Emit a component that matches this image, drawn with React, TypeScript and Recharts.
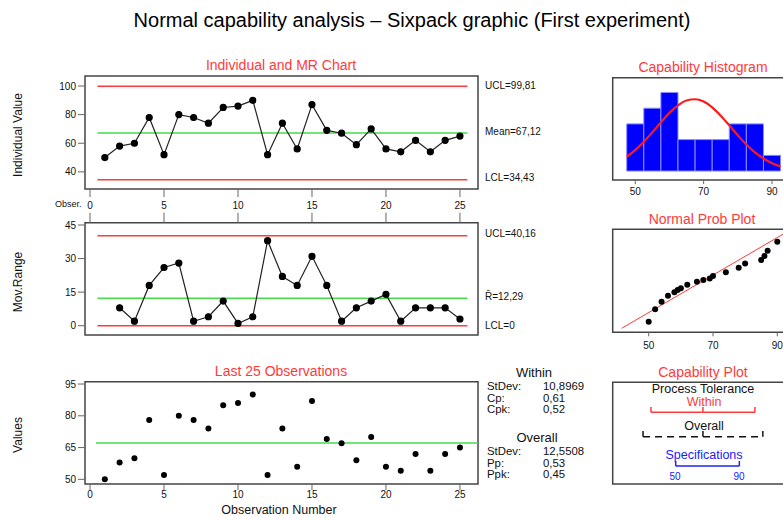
import React from "react";
import {
  ComposedChart,
  Line,
  Scatter,
  XAxis,
  YAxis,
  ReferenceLine,
  ReferenceArea,
} from "recharts";

// individual observations 1..25
const obsValues = [50, 58, 60, 78, 52, 80, 78, 74, 85, 86, 90, 52, 74, 56, 87, 69, 67, 59, 70, 56, 54, 62, 54, 62, 65];
// moving ranges for observations 2..25
const movRanges = [8, 2, 18, 26, 28, 2, 4, 11, 1, 4, 38, 22, 18, 31, 18, 2, 8, 11, 14, 2, 8, 8, 8, 3];

const indLimits = [99.81, 67.12, 34.43]; // UCL, mean, LCL
const mrLimits = [40.16, 12.29, 0]; // UCL, Rbar, LCL
const obsTicks = [0, 5, 10, 15, 20, 25];

// histogram
const binStart = [47.5, 52.5, 57.5, 62.5, 67.5, 72.5, 77.5, 82.5, 87.5];
const binCount = [3, 4, 5, 2, 2, 2, 3, 3, 1];
const curveX = [47.5, 50, 52.5, 55, 57.5, 60, 62.5, 65, 67.5, 70, 72.5, 75, 77.5, 80, 82.5, 85, 87.5, 90, 92.5];
const curveY = [0.91, 1.33, 1.86, 2.46, 3.1, 3.7, 4.18, 4.49, 4.57, 4.42, 4.05, 3.52, 2.91, 2.27, 1.69, 1.19, 0.8, 0.5, 0.3];

// normal probability plot
const probX = [50, 52, 54, 56, 58, 59, 60, 62, 65, 67, 69, 70, 74, 78, 80, 85, 86, 87, 90];
const probZ = [-1.75, -1.22, -0.9, -0.65, -0.5, -0.4, -0.33, -0.18, -0.05, 0.02, 0.09, 0.19, 0.35, 0.54, 0.73, 0.87, 1.04, 1.27, 1.65];
const fitLine = [[41.6, -2.03], [92.4, 2.02]];

// capability plot
const withinTol = [34.43, 67.12, 99.81];
const overallTol = [29.47, 67.12, 104.77];
const specLimits = [50, 90];

const withinStats = [["StDev:", "10,8969"], ["Cp:", "0,61"], ["Cpk:", "0,52"]];
const overallStats = [["StDev:", "12,5508"], ["Pp:", "0,53"], ["Ppk:", "0,45"]];

const indRows = obsValues.map((v, i) => ({ obs: i + 1, value: v }));
const mrRows = movRanges.map((v, i) => ({ obs: i + 2, value: v }));
const curveRows = curveX.map((x, i) => ({ x, y: curveY[i] }));
const probRows = probX.map((x, i) => ({ x, z: probZ[i] }));

const FONT = "'Liberation Sans', Arial, sans-serif";
const RED = "#ff3a3a";
const GREEN = "#44dd44";
const FRAME = "#444";
const tickStyle = { fontSize: 10, fill: "#111" };

const dot = (p: any) => <circle cx={p.cx} cy={p.cy} r={3} fill="#000" />;

function Txt({ x, y, size = 12, color = "#111", align = "center", rotate = false, children }: any) {
  const tx = align === "left" ? "0" : align === "right" ? "-100%" : "-50%";
  return (
    <div
      style={{
        position: "absolute",
        left: x,
        top: y,
        transform: `translate(${tx}, -50%)${rotate ? " rotate(-90deg)" : ""}`,
        fontSize: size,
        color,
        whiteSpace: "nowrap",
        lineHeight: 1,
      }}
    >
      {children}
    </div>
  );
}

const OBS_DOM: [number, number] = [-0.34, 26.22];

export default function App() {
  return (
    <div style={{ position: "absolute", left: 0, top: 0, width: 783, height: 518, overflow: "hidden", background: "#fff", fontFamily: FONT }}>
      <Txt x={412} y={20} size={20} color="#000">Normal capability analysis – Sixpack graphic (First experiment)</Txt>

      {/* Individual chart */}
      <Txt x={281} y={65} size={14} color={RED}>Individual and MR Chart</Txt>
      <div style={{ position: "absolute", left: 0, top: 50 }}>
        <ComposedChart width={560} height={170} data={indRows} margin={{ left: 45, right: 82, top: 26, bottom: 6 }}>
          <XAxis type="number" dataKey="obs" domain={OBS_DOM} allowDataOverflow ticks={obsTicks} interval={0}
            axisLine={false} tickSize={8} tickMargin={5} height={25} tick={tickStyle} />
          <YAxis type="number" dataKey="value" domain={[28, 107]} allowDataOverflow ticks={[40, 60, 80, 100]} interval={0}
            width={40} axisLine={false} tickSize={7} tickMargin={2} tick={tickStyle} />
          <ReferenceArea x1={OBS_DOM[0]} x2={OBS_DOM[1]} y1={28} y2={107} fill="none" stroke={FRAME} strokeWidth={1.5} ifOverflow="visible" />
          <ReferenceLine segment={[{ x: 0.5, y: indLimits[0] }, { x: 25.5, y: indLimits[0] }]} stroke={RED} strokeWidth={1.5} />
          <ReferenceLine segment={[{ x: 0.5, y: indLimits[1] }, { x: 25.5, y: indLimits[1] }]} stroke={GREEN} strokeWidth={1.5} />
          <ReferenceLine segment={[{ x: 0.5, y: indLimits[2] }, { x: 25.5, y: indLimits[2] }]} stroke={RED} strokeWidth={1.5} />
          <Line dataKey="value" stroke="#222" strokeWidth={1.2} dot={{ r: 3, fill: "#000", stroke: "#000" }} isAnimationActive={false} />
        </ComposedChart>
      </div>
      <Txt x={18} y={135} rotate>Individual Value</Txt>
      <Txt x={55} y={204} size={9} align="left">Obser.</Txt>
      <Txt x={485} y={86} size={10} align="left">UCL=99,81</Txt>
      <Txt x={485} y={132} size={10} align="left">Mean=67,12</Txt>
      <Txt x={485} y={178} size={10} align="left">LCL=34,43</Txt>

      {/* Moving range chart */}
      <div style={{ position: "absolute", left: 0, top: 200 }}>
        <ComposedChart width={560} height={150} data={mrRows} margin={{ left: 45, right: 82, top: 10.7, bottom: 15 }}>
          <XAxis type="number" dataKey="obs" orientation="top" domain={OBS_DOM} allowDataOverflow ticks={obsTicks} interval={0}
            axisLine={false} tickSize={10} height={12} tickFormatter={() => ""} />
          <YAxis type="number" dataKey="value" domain={[-4.16, 46.03]} allowDataOverflow ticks={[0, 15, 30, 45]} interval={0}
            width={40} axisLine={false} tickSize={7} tickMargin={2} tick={tickStyle} />
          <ReferenceArea x1={OBS_DOM[0]} x2={OBS_DOM[1]} y1={-4.16} y2={46.03} fill="none" stroke={FRAME} strokeWidth={1.5} ifOverflow="visible" />
          <ReferenceLine segment={[{ x: 0.5, y: mrLimits[0] }, { x: 25.5, y: mrLimits[0] }]} stroke={RED} strokeWidth={1.5} />
          <ReferenceLine segment={[{ x: 0.5, y: mrLimits[1] }, { x: 25.5, y: mrLimits[1] }]} stroke={GREEN} strokeWidth={1.5} />
          <ReferenceLine segment={[{ x: 0.5, y: mrLimits[2] }, { x: 25.5, y: mrLimits[2] }]} stroke={RED} strokeWidth={1.5} />
          <Line dataKey="value" stroke="#222" strokeWidth={1.2} dot={{ r: 3, fill: "#000", stroke: "#000" }} isAnimationActive={false} />
        </ComposedChart>
      </div>
      <Txt x={18} y={282} rotate>Mov.Range</Txt>
      <Txt x={485} y={234} size={10} align="left">UCL=40,16</Txt>
      <Txt x={485} y={297} size={10} align="left">R̄=12,29</Txt>
      <Txt x={485} y={326} size={10} align="left">LCL=0</Txt>

      {/* Last 25 observations */}
      <Txt x={281} y={371} size={14} color={RED}>Last 25 Observations</Txt>
      <div style={{ position: "absolute", left: 0, top: 360 }}>
        <ComposedChart width={560} height={158} data={indRows} margin={{ left: 45, right: 82, top: 21.7, bottom: 10 }}>
          <XAxis type="number" dataKey="obs" domain={OBS_DOM} allowDataOverflow ticks={obsTicks} interval={0}
            axisLine={false} tickSize={6} tickMargin={1} height={24} tick={tickStyle} />
          <YAxis type="number" dataKey="value" domain={[47.8, 96.1]} allowDataOverflow ticks={[50, 65, 80, 95]} interval={0}
            width={40} axisLine={false} tickSize={7} tickMargin={2} tick={tickStyle} />
          <ReferenceArea x1={OBS_DOM[0]} x2={OBS_DOM[1]} y1={47.8} y2={96.1} fill="none" stroke={FRAME} strokeWidth={1.5} ifOverflow="visible" />
          <ReferenceLine segment={[{ x: 0.4, y: indLimits[1] }, { x: OBS_DOM[1], y: indLimits[1] }]} stroke={GREEN} strokeWidth={1.5} />
          <Scatter dataKey="value" shape={dot} isAnimationActive={false} />
        </ComposedChart>
      </div>
      <Txt x={18} y={435} rotate>Values</Txt>
      <Txt x={279} y={510} size={12.5}>Observation Number</Txt>

      {/* Stats */}
      <Txt x={534} y={372} size={13}>Within</Txt>
      {withinStats.map(([k, v], i) => (
        <React.Fragment key={"w" + i}>
          <Txt x={487} y={387 + i * 11.7} size={11.4} align="left">{k}</Txt>
          <Txt x={543} y={387 + i * 11.7} size={11.4} align="left">{v}</Txt>
        </React.Fragment>
      ))}
      <Txt x={537} y={437} size={13}>Overall</Txt>
      {overallStats.map(([k, v], i) => (
        <React.Fragment key={"o" + i}>
          <Txt x={487} y={452 + i * 11.7} size={11.4} align="left">{k}</Txt>
          <Txt x={543} y={452 + i * 11.7} size={11.4} align="left">{v}</Txt>
        </React.Fragment>
      ))}

      {/* Capability histogram */}
      <Txt x={703} y={67} size={14} color={RED}>Capability Histogram</Txt>
      <div style={{ position: "absolute", left: 570, top: 50 }}>
        <ComposedChart width={230} height={160} data={curveRows} margin={{ left: 42.7, right: 15, top: 27.7, bottom: 10 }}>
          <XAxis type="number" dataKey="x" domain={[43.4, 93.8]} allowDataOverflow ticks={[50, 70, 90]} interval={0}
            axisLine={false} tickSize={4} tickMargin={4} height={20} tick={tickStyle} />
          <YAxis type="number" domain={[-0.57, 5.94]} allowDataOverflow hide />
          <ReferenceArea x1={43.4} x2={93.8} y1={-0.57} y2={5.94} fill="none" stroke={FRAME} strokeWidth={1.5} ifOverflow="visible" />
          {binStart.map((b, i) => (
            <ReferenceArea key={i} x1={b} x2={b + 5} y1={0} y2={binCount[i]} fill="#0000ff" fillOpacity={1} stroke="#8c8cff" strokeWidth={1} ifOverflow="visible" />
          ))}
          <Line dataKey="y" type="monotone" stroke="#ff1a1a" strokeWidth={2.2} dot={false} isAnimationActive={false} />
        </ComposedChart>
      </div>

      {/* Normal probability plot */}
      <Txt x={702} y={219} size={14} color={RED}>Normal Prob Plot</Txt>
      <div style={{ position: "absolute", left: 570, top: 200 }}>
        <ComposedChart width={230} height={160} data={probRows} margin={{ left: 42.7, right: 15, top: 29.3, bottom: 7.7 }}>
          <XAxis type="number" dataKey="x" domain={[38.8, 92.4]} allowDataOverflow ticks={[50, 70, 90]} interval={0}
            axisLine={false} tickSize={4} tickMargin={6} height={20} tick={tickStyle} />
          <YAxis type="number" dataKey="z" domain={[-2.2, 2.18]} allowDataOverflow hide />
          <ReferenceArea x1={38.8} x2={92.4} y1={-2.2} y2={2.18} fill="none" stroke={FRAME} strokeWidth={1.5} ifOverflow="visible" />
          <ReferenceLine segment={[{ x: fitLine[0][0], y: fitLine[0][1] }, { x: fitLine[1][0], y: fitLine[1][1] }]} stroke={RED} strokeWidth={1} />
          <Scatter dataKey="z" shape={dot} isAnimationActive={false} />
        </ComposedChart>
      </div>

      {/* Capability plot */}
      <Txt x={703} y={372} size={14} color={RED}>Capability Plot</Txt>
      <div style={{ position: "absolute", left: 570, top: 360 }}>
        <ComposedChart width={230} height={158} data={specLimits.map((x) => ({ x, y: 0 }))} margin={{ left: 42.7, right: 15, top: 22.3, bottom: 34 }}>
          <XAxis type="number" dataKey="x" domain={[10.4, 118.7]} allowDataOverflow hide />
          <YAxis type="number" dataKey="y" domain={[0, 101.7]} allowDataOverflow hide />
          <ReferenceArea x1={10.4} x2={118.7} y1={0} y2={101.7} fill="none" stroke={FRAME} strokeWidth={1.5} ifOverflow="visible" />
          {/* within */}
          <ReferenceLine segment={[{ x: withinTol[0], y: 71.7 }, { x: withinTol[2], y: 71.7 }]} stroke={RED} strokeWidth={1.5} />
          {withinTol.map((t, i) => (
            <ReferenceLine key={"wt" + i} segment={[{ x: t, y: 71.7 }, { x: t, y: 77 }]} stroke={RED} strokeWidth={1.5} />
          ))}
          {/* overall */}
          <ReferenceLine segment={[{ x: overallTol[0], y: 47.3 }, { x: overallTol[2], y: 47.3 }]} stroke="#111" strokeWidth={1.5} strokeDasharray="7 5" />
          {overallTol.map((t, i) => (
            <ReferenceLine key={"ot" + i} segment={[{ x: t, y: 47.3 }, { x: t, y: 53 }]} stroke="#111" strokeWidth={1.5} />
          ))}
          {/* specifications */}
          <ReferenceLine segment={[{ x: specLimits[0], y: 18 }, { x: specLimits[1], y: 18 }]} stroke="#2020ff" strokeWidth={1.5} />
          {specLimits.map((t, i) => (
            <ReferenceLine key={"st" + i} segment={[{ x: t, y: 18 }, { x: t, y: 23 }]} stroke="#2020ff" strokeWidth={1.5} />
          ))}
        </ComposedChart>
      </div>
      <Txt x={703} y={389} size={12.5}>Process Tolerance</Txt>
      <Txt x={704} y={402} size={12.5} color={RED}>Within</Txt>
      <Txt x={704} y={426} size={12.5}>Overall</Txt>
      <Txt x={704} y={455} size={12.5} color="#2020ff">Specifications</Txt>
      <Txt x={675} y={477} size={10} color="#2020ff">50</Txt>
      <Txt x={739} y={477} size={10} color="#2020ff">90</Txt>
    </div>
  );
}
